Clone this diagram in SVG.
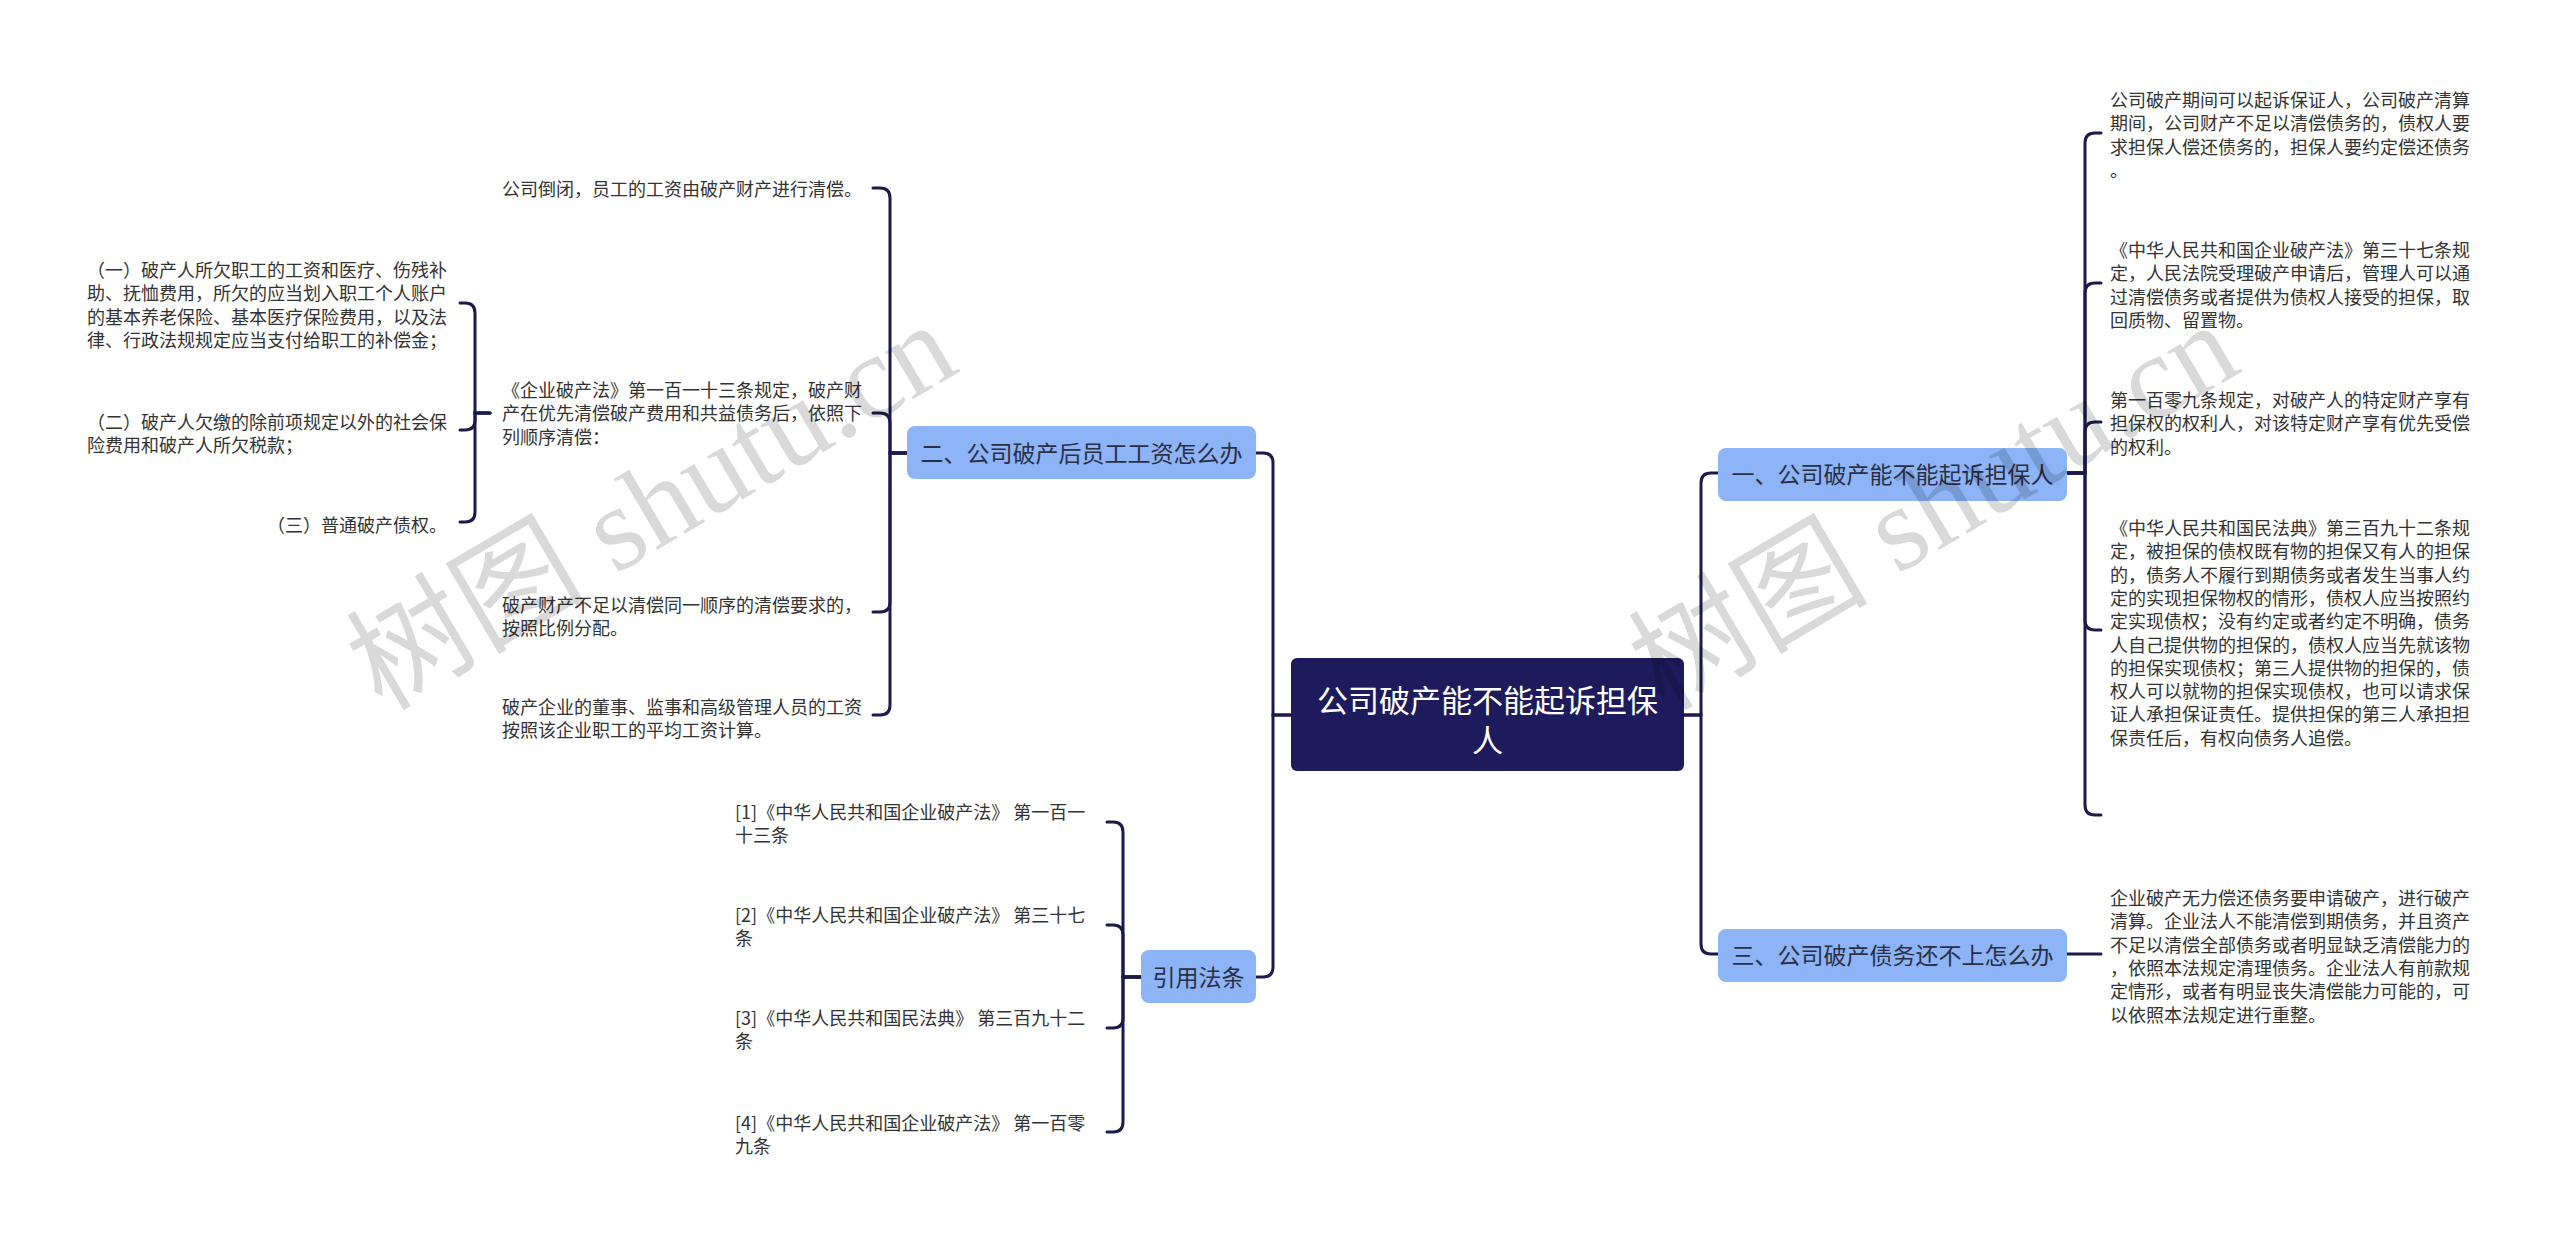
<svg xmlns="http://www.w3.org/2000/svg" width="2560" height="1243" viewBox="0 0 2560 1243">
<style>
.bg{fill:#ffffff}
.con{fill:none;stroke:#1b1a4b;stroke-width:3;stroke-linecap:round}
.root{fill:#1e1b5c}
.rt{font-family:"Noto Sans CJK SC","Noto Sans",sans-serif;font-size:31px;fill:#ffffff;text-anchor:middle}
.sub{fill:#8cb4f6}
.st{font-family:"Noto Sans CJK SC","Noto Sans",sans-serif;font-size:23px;fill:#2b2e45;text-anchor:middle}
.lf{font-family:"Noto Sans CJK SC","Noto Sans",sans-serif;font-size:18px;fill:#333333}
.wm{font-family:"Liberation Serif","Noto Sans CJK SC",serif;font-size:120px;fill:#000000;fill-opacity:0.15}
</style>
<rect class="bg" x="0" y="0" width="2560" height="1243"/>

<g id="connectors">
<path class="con" d="M1684,715 H1701 V483 Q1701,473 1711,473 H1718"/>
<path class="con" d="M1684,715 H1701 V944 Q1701,954 1711,954 H1718"/>
<path class="con" d="M1291,715 H1273 V463 Q1273,453 1263,453 H1256"/>
<path class="con" d="M1291,715 H1273 V967 Q1273,977 1263,977 H1256"/>
<path class="con" d="M2067,473 H2085 V143 Q2085,133 2095,133 H2101"/>
<path class="con" d="M2067,473 H2085 V293 Q2085,283 2095,283 H2101"/>
<path class="con" d="M2067,473 H2085 V432 Q2085,422 2095,422 H2101"/>
<path class="con" d="M2067,473 H2085 V620 Q2085,630 2095,630 H2101"/>
<path class="con" d="M2067,473 H2085 V805 Q2085,815 2095,815 H2101"/>
<path class="con" d="M2067,954 H2101"/>
<path class="con" d="M907,453 H890 V198 Q890,188 880,188 H873"/>
<path class="con" d="M907,453 H890 V423 Q890,413 880,413 H873"/>
<path class="con" d="M907,453 H890 V602 Q890,612 880,612 H873"/>
<path class="con" d="M907,453 H890 V705 Q890,715 880,715 H873"/>
<path class="con" d="M490,413 H475 V313 Q475,303 465,303 H460"/>
<path class="con" d="M490,413 H475 V420 Q475,430 465,430 H460"/>
<path class="con" d="M490,413 H475 V512 Q475,522 465,522 H460"/>
<path class="con" d="M1141,977 H1123 V832 Q1123,822 1113,822 H1107"/>
<path class="con" d="M1141,977 H1123 V935 Q1123,925 1113,925 H1107"/>
<path class="con" d="M1141,977 H1123 V1018 Q1123,1028 1113,1028 H1107"/>
<path class="con" d="M1141,977 H1123 V1122 Q1123,1132 1113,1132 H1107"/>
</g>

<g id="root">
<rect class="root" x="1291" y="658" width="393" height="113" rx="6"/>
<text class="rt" x="1487.5" y="712">公司破产能不能起诉担保</text>
<text class="rt" x="1487.5" y="752">人</text>
</g>

<g id="node-1">
<rect class="sub" x="1718" y="448" width="349" height="53" rx="8"/>
<text class="st" x="1892.5" y="483">一、公司破产能不能起诉担保人</text>
</g>
<g id="node-3">
<rect class="sub" x="1718" y="929" width="349" height="53" rx="8"/>
<text class="st" x="1892.5" y="964">三、公司破产债务还不上怎么办</text>
</g>
<g id="node-2">
<rect class="sub" x="907" y="426" width="349" height="53" rx="8"/>
<text class="st" x="1081.5" y="461.5">二、公司破产后员工工资怎么办</text>
</g>
<g id="node-law">
<rect class="sub" x="1141" y="950" width="115" height="53" rx="8"/>
<text class="st" x="1198.5" y="986">引用法条</text>
</g>

<g id="leaf-1-1">
<text class="lf" x="2110" y="107">公司破产期间可以起诉保证人，公司破产清算</text>
<text class="lf" x="2110" y="130.3">期间，公司财产不足以清偿债务的，债权人要</text>
<text class="lf" x="2110" y="153.7">求担保人偿还债务的，担保人要约定偿还债务</text>
<text class="lf" x="2110" y="177">。</text>
</g>
<g id="leaf-1-2">
<text class="lf" x="2110" y="257">《中华人民共和国企业破产法》第三十七条规</text>
<text class="lf" x="2110" y="280.3">定，人民法院受理破产申请后，管理人可以通</text>
<text class="lf" x="2110" y="303.7">过清偿债务或者提供为债权人接受的担保，取</text>
<text class="lf" x="2110" y="327">回质物、留置物。</text>
</g>
<g id="leaf-1-3">
<text class="lf" x="2110" y="407">第一百零九条规定，对破产人的特定财产享有</text>
<text class="lf" x="2110" y="430.3">担保权的权利人，对该特定财产享有优先受偿</text>
<text class="lf" x="2110" y="453.7">的权利。</text>
</g>
<g id="leaf-1-4">
<text class="lf" x="2110" y="535">《中华人民共和国民法典》第三百九十二条规</text>
<text class="lf" x="2110" y="558.3">定，被担保的债权既有物的担保又有人的担保</text>
<text class="lf" x="2110" y="581.6">的，债务人不履行到期债务或者发生当事人约</text>
<text class="lf" x="2110" y="604.9">定的实现担保物权的情形，债权人应当按照约</text>
<text class="lf" x="2110" y="628.2">定实现债权；没有约定或者约定不明确，债务</text>
<text class="lf" x="2110" y="651.5">人自己提供物的担保的，债权人应当先就该物</text>
<text class="lf" x="2110" y="674.8">的担保实现债权；第三人提供物的担保的，债</text>
<text class="lf" x="2110" y="698.1">权人可以就物的担保实现债权，也可以请求保</text>
<text class="lf" x="2110" y="721.4">证人承担保证责任。提供担保的第三人承担担</text>
<text class="lf" x="2110" y="744.7">保责任后，有权向债务人追偿。</text>
</g>
<g id="leaf-3-1">
<text class="lf" x="2110" y="905">企业破产无力偿还债务要申请破产，进行破产</text>
<text class="lf" x="2110" y="928.3">清算。企业法人不能清偿到期债务，并且资产</text>
<text class="lf" x="2110" y="951.6">不足以清偿全部债务或者明显缺乏清偿能力的</text>
<text class="lf" x="2110" y="974.9">，依照本法规定清理债务。企业法人有前款规</text>
<text class="lf" x="2110" y="998.2">定情形，或者有明显丧失清偿能力可能的，可</text>
<text class="lf" x="2110" y="1021.5">以依照本法规定进行重整。</text>
</g>

<g id="leaf-2-1">
<text class="lf" x="502" y="196">公司倒闭，员工的工资由破产财产进行清偿。</text>
</g>
<g id="leaf-2-2">
<text class="lf" x="502" y="397">《企业破产法》第一百一十三条规定，破产财</text>
<text class="lf" x="502" y="420.3">产在优先清偿破产费用和共益债务后，依照下</text>
<text class="lf" x="502" y="443.6">列顺序清偿：</text>
</g>
<g id="leaf-2-3">
<text class="lf" x="502" y="612">破产财产不足以清偿同一顺序的清偿要求的，</text>
<text class="lf" x="502" y="635.3">按照比例分配。</text>
</g>
<g id="leaf-2-4">
<text class="lf" x="502" y="714">破产企业的董事、监事和高级管理人员的工资</text>
<text class="lf" x="502" y="737.3">按照该企业职工的平均工资计算。</text>
</g>
<g id="leaf-2-2-1">
<text class="lf" x="87" y="277">（一）破产人所欠职工的工资和医疗、伤残补</text>
<text class="lf" x="87" y="300.3">助、抚恤费用，所欠的应当划入职工个人账户</text>
<text class="lf" x="87" y="323.6">的基本养老保险、基本医疗保险费用，以及法</text>
<text class="lf" x="87" y="346.9">律、行政法规规定应当支付给职工的补偿金；</text>
</g>
<g id="leaf-2-2-2">
<text class="lf" x="87" y="429">（二）破产人欠缴的除前项规定以外的社会保</text>
<text class="lf" x="87" y="452.3">险费用和破产人所欠税款；</text>
</g>
<g id="leaf-2-2-3">
<text class="lf" x="267" y="532">（三）普通破产债权。</text>
</g>

<g id="leaf-law-1">
<text class="lf" x="735" y="819">[1]《中华人民共和国企业破产法》 第一百一</text>
<text class="lf" x="735" y="842.3">十三条</text>
</g>
<g id="leaf-law-2">
<text class="lf" x="735" y="922">[2]《中华人民共和国企业破产法》 第三十七</text>
<text class="lf" x="735" y="945.3">条</text>
</g>
<g id="leaf-law-3">
<text class="lf" x="735" y="1025">[3]《中华人民共和国民法典》 第三百九十二</text>
<text class="lf" x="735" y="1048.3">条</text>
</g>
<g id="leaf-law-4">
<text class="lf" x="735" y="1130">[4]《中华人民共和国企业破产法》 第一百零</text>
<text class="lf" x="735" y="1153.3">九条</text>
</g>

<g id="watermark">
<text class="wm" x="382" y="712" transform="rotate(-30.5 382 712)">树图 shutu.cn</text>
<text class="wm" x="1664" y="712" transform="rotate(-30.5 1664 712)">树图 shutu.cn</text>
</g>
</svg>
